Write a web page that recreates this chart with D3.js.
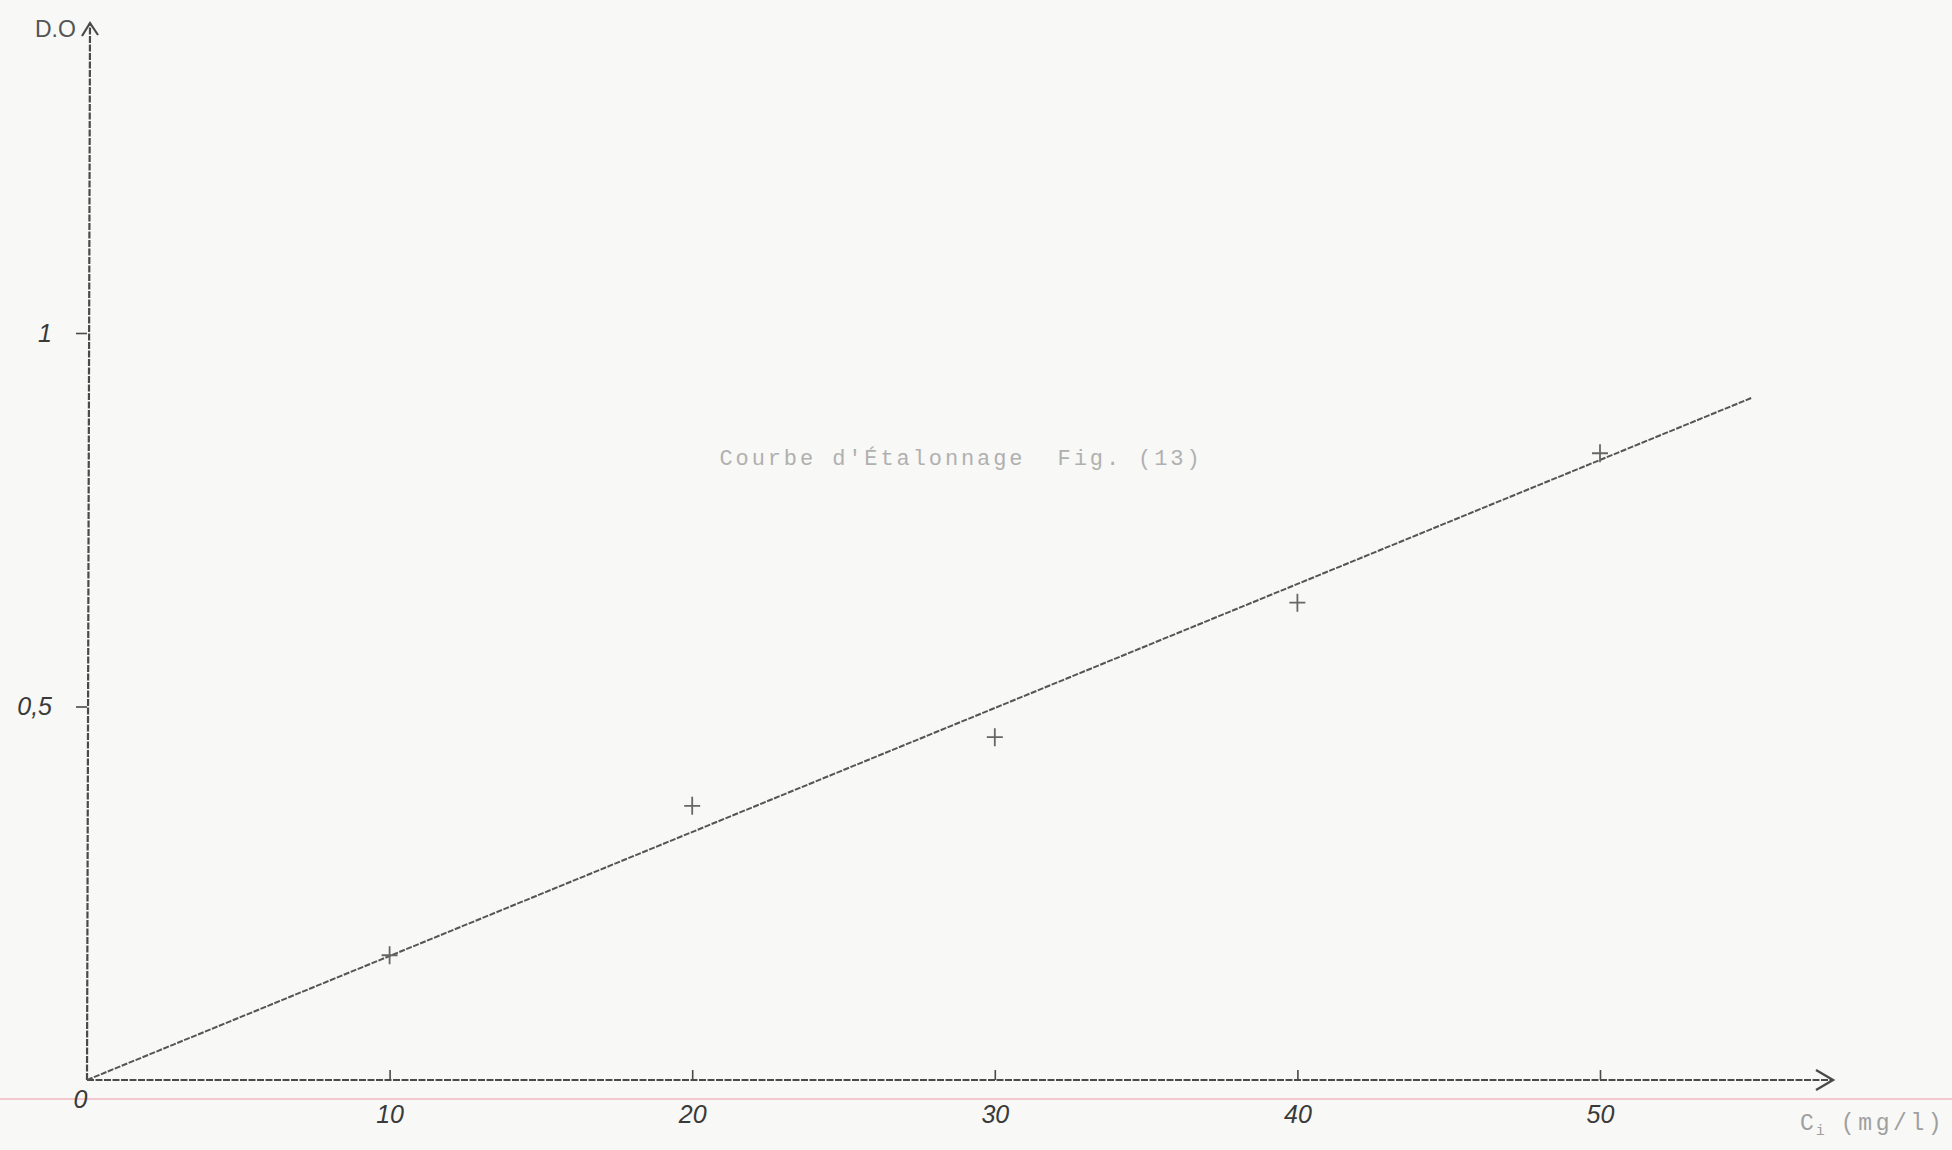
<!DOCTYPE html>
<html>
<head>
<meta charset="utf-8">
<script src="https://cdn.jsdelivr.net/npm/d3@7"></script>
<style>
  html, body { margin: 0; padding: 0; background: #f8f8f6; }
  svg { display: block; }
  .pre { white-space: pre; }
</style>
</head>
<body>
<svg id="chart" width="1952" height="1150"></svg>
<script>
// Calibration measurements: concentration (mg/l) vs optical density
const concentrations = [10, 20, 30, 40, 50];
const densities = [0.167, 0.367, 0.459, 0.639, 0.839];

// Hand-drawn fit line endpoints
const fitX = [0, 55];
const fitY = [0, 0.913];

// Axis ticks and labels
const xTicks = [0, 10, 20, 30, 40, 50];
const xTickLabels = ["0", "10", "20", "30", "40", "50"];
const yTicks = [0.5, 1];
const yTickLabels = ["0,5", "1"];

const titleText = "Courbe d'Étalonnage  Fig. (13)";
const yAxisLabel = "D.O";

const W = 1952, H = 1150;
const svg = d3.select("#chart");

const x = d3.scaleLinear().domain([0, 50]).range([87, 1600]);
const y = d3.scaleLinear().domain([0, 1]).range([1080, 333]);

const ink = "#4a4a4a";
const handFont = "'Liberation Sans', Arial, sans-serif";
const typeFont = "'Liberation Mono', 'DejaVu Sans Mono', monospace";

// ruled pink line of the paper
svg.append("line")
  .attr("x1", 0).attr("x2", W)
  .attr("y1", 1099).attr("y2", 1099)
  .attr("stroke", "#f2b8c0").attr("stroke-width", 1.6);

// x axis line with open arrowhead
const xEnd = x(57.7);
svg.append("line")
  .attr("x1", x(0)).attr("x2", xEnd)
  .attr("y1", y(0)).attr("y2", y(0))
  .attr("stroke", ink).attr("stroke-width", 2.2)
  .attr("stroke-dasharray", "7 1.5");
svg.append("path")
  .attr("d", `M${xEnd - 17},${y(0) - 10} L${xEnd},${y(0)} L${xEnd - 17},${y(0) + 10}`)
  .attr("fill", "none").attr("stroke", ink).attr("stroke-width", 2.4);

// y axis line with open arrowhead
const yTop = y(1.415);
svg.append("line")
  .attr("x1", x(0)).attr("x2", x(0) + 3)
  .attr("y1", y(0)).attr("y2", yTop)
  .attr("stroke", ink).attr("stroke-width", 2.2)
  .attr("stroke-dasharray", "7 1.5");
svg.append("path")
  .attr("d", `M${x(0) - 5},${yTop + 13} L${x(0) + 3},${yTop} L${x(0) + 11},${yTop + 12}`)
  .attr("fill", "none").attr("stroke", ink).attr("stroke-width", 2.2);

// x ticks pointing up, labels below
const xAxis = d3.axisBottom(x)
  .tickValues(xTicks)
  .tickSizeInner(-10)
  .tickSizeOuter(0)
  .tickPadding(14)
  .tickFormat((d, i) => xTickLabels[i]);
const gx = svg.append("g").attr("transform", `translate(0,${y(0)})`).call(xAxis);
gx.select(".domain").remove();
gx.selectAll(".tick line").attr("stroke", ink).attr("stroke-width", 1.6)
  .filter(d => d === 0).remove();
gx.selectAll(".tick text")
  .attr("font-family", handFont).attr("font-size", 25)
  .attr("font-style", "italic").attr("fill", "#3a3a3a")
  .attr("dy", d => d === 0 ? "0.55em" : "1.15em")
  .attr("dx", d => d === 0 ? -7 : 0);

// y ticks pointing left
const yAxis = d3.axisLeft(y)
  .tickValues(yTicks)
  .tickSizeInner(11)
  .tickSizeOuter(0)
  .tickPadding(24)
  .tickFormat((d, i) => yTickLabels[i]);
const gy = svg.append("g").attr("transform", `translate(${x(0)},0)`).call(yAxis);
gy.select(".domain").remove();
gy.selectAll(".tick line").attr("stroke", ink).attr("stroke-width", 1.6);
gy.selectAll(".tick text")
  .attr("font-family", handFont).attr("font-size", 25)
  .attr("font-style", "italic").attr("fill", "#3a3a3a");

// y axis name
svg.append("text")
  .attr("x", 35).attr("y", 37)
  .attr("font-family", handFont).attr("font-size", 23)
  .attr("fill", "#555")
  .text(yAxisLabel);

// x axis name: C_i (mg/l)
const xl = svg.append("text")
  .attr("x", 1800).attr("y", 1130)
  .attr("font-family", typeFont).attr("font-size", 23)
  .attr("fill", "#9f9f9f");
xl.append("tspan").text("C");
xl.append("tspan").attr("font-size", 15).attr("dy", 5).attr("dx", 2).text("i");
xl.append("tspan").attr("dy", -5).attr("dx", 16).attr("letter-spacing", 3.6).text("(mg/l)");

// fitted calibration line
const line = d3.line().x(d => x(d[0])).y(d => y(d[1]));
svg.append("path")
  .datum(d3.zip(fitX, fitY))
  .attr("d", line)
  .attr("fill", "none")
  .attr("stroke", "#555").attr("stroke-width", 2)
  .attr("stroke-dasharray", "6 1.5");

// measured points as small crosses
const s = 8;
svg.append("g").selectAll("path")
  .data(d3.zip(concentrations, densities))
  .join("path")
  .attr("d", d => {
    const cx = x(d[0]), cy = y(d[1]);
    return `M${cx - s},${cy} L${cx + s},${cy} M${cx},${cy - s - 1} L${cx},${cy + s + 1}`;
  })
  .attr("fill", "none")
  .attr("stroke", "#666").attr("stroke-width", 1.8);

// caption
svg.append("text")
  .attr("class", "pre")
  .attr("x", 961).attr("y", 465)
  .attr("text-anchor", "middle")
  .attr("font-family", typeFont).attr("font-size", 22)
  .attr("letter-spacing", 2.9)
  .attr("fill", "#b0b0b0")
  .text(titleText);
</script>
</body>
</html>
